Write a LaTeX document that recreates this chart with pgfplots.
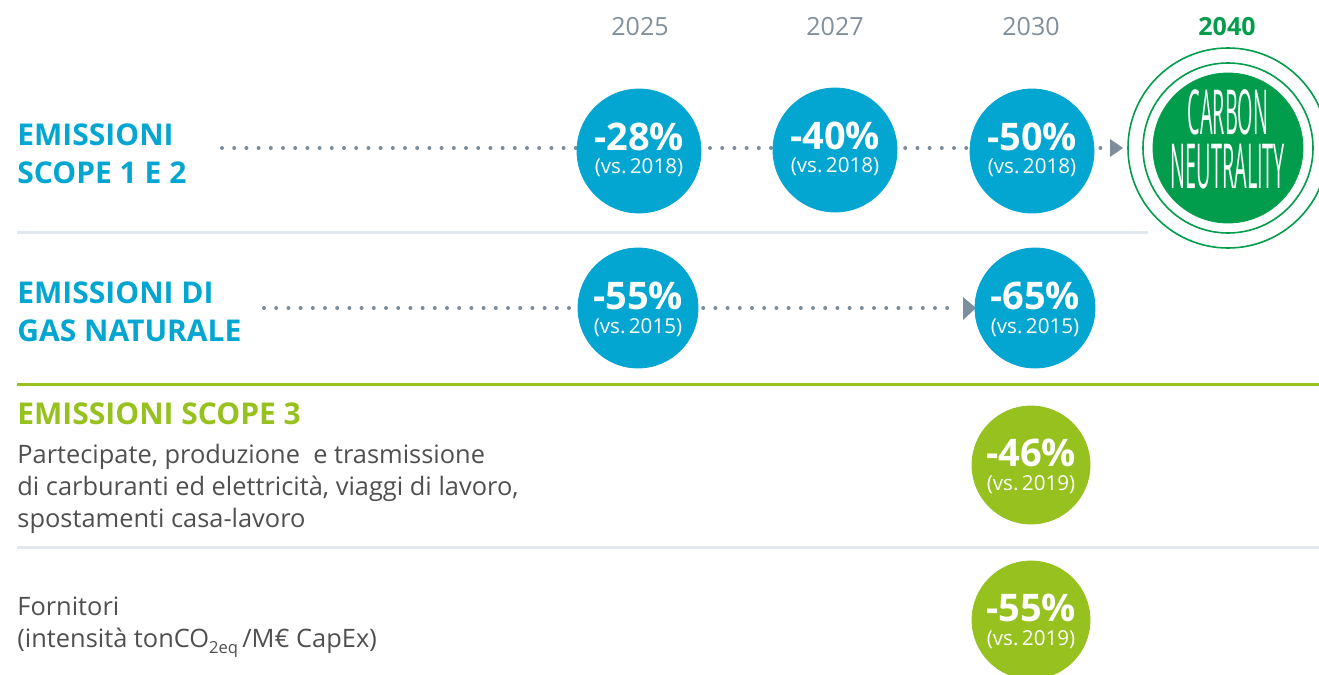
\documentclass[border=0pt]{standalone}
\usepackage{fontspec}
\setmainfont{Open Sans}
\usepackage{pgfplots}
\pgfplotsset{compat=1.18}
\definecolor{cblue}{HTML}{02A6D1}
\definecolor{lgreen}{HTML}{96C11F}
\definecolor{dgreen}{HTML}{029D4C}
\definecolor{dotgray}{HTML}{7D8D9B}
\definecolor{ygray}{HTML}{808F9C}
\definecolor{bodygray}{HTML}{4F4F4F}
\definecolor{sepgray}{HTML}{E1E8EF}
\pgfplotsset{
  canvas/.style={
    width=659.5pt, height=337.5pt, scale only axis,
    xmin=0, xmax=1319, ymin=0, ymax=675, y dir=reverse,
    hide axis, clip=false,
  },
}
\tikzset{
  pct/.style={text=white, font=\bfseries\fontsize{19}{20}\selectfont},
  vs/.style={text=white, font=\fontsize{10.3}{12}\selectfont},
  lbl/.style={anchor=base west, inner sep=0pt, font=\bfseries\fontsize{15}{18}\selectfont},
  body/.style={anchor=base west, inner sep=0pt, text=bodygray, font=\fontsize{12.7}{14}\selectfont},
}

\begin{document}
\begin{tikzpicture}
\begin{axis}[canvas]
% separators
\addplot[sepgray, line width=1.5pt] coordinates {(17,232)(1148,232)};
\addplot[lgreen, line width=1.5pt] coordinates {(17,384)(1319,384)};
\addplot[sepgray, line width=1.5pt] coordinates {(17,547)(1319,547)};

% dotted timelines and arrow heads
\addplot[dotgray, line width=2pt, line cap=round, dash pattern=on 0pt off 6.1pt]
  coordinates {(222,148)(1104,148)};
\addplot[dotgray, line width=2pt, line cap=round, dash pattern=on 0pt off 6.1pt]
  coordinates {(264,308)(958,308)};
\addplot[fill=dotgray, draw=none] coordinates {(1110,139)(1123,148)(1110,157)} -- cycle;
\addplot[fill=dotgray, draw=none] coordinates {(963,297)(976,308)(963,320)} -- cycle;

% target circles
\addplot[cblue, only marks, mark=*, mark size=31pt]
  coordinates {(639,151)(835,150)(1032,151)};
\addplot[cblue, only marks, mark=*, mark size=30pt]
  coordinates {(638,308)(1035,308)};
\addplot[lgreen, only marks, mark=*, mark size=29.5pt]
  coordinates {(1031,465)(1031,620)};

% carbon neutrality badge
\addplot[dgreen, only marks, mark=o, mark size=50pt, mark options={line width=0.8pt}]
  coordinates {(1228,148)};
\addplot[dgreen, only marks, mark=o, mark size=42.5pt, mark options={line width=0.8pt}]
  coordinates {(1228,148)};
\addplot[dgreen, only marks, mark=*, mark size=37.5pt]
  coordinates {(1228,148)};
\end{axis}

% second layer: all texts, on top of the marks
\begin{axis}[canvas]
\node[text=ygray, font=\fontsize{12.5}{15}\selectfont] at (axis cs:640,27) {2025};
\node[text=ygray, font=\fontsize{12.5}{15}\selectfont] at (axis cs:835,27) {2027};
\node[text=ygray, font=\fontsize{12.5}{15}\selectfont] at (axis cs:1031,27) {2030};
\node[text=dgreen, font=\bfseries\fontsize{12.5}{15}\selectfont] at (axis cs:1227,27) {2040};

\node[pct] at (axis cs:639,137) {-28\%};
\node[vs]  at (axis cs:639,168) {(vs.\,2018)};
\node[pct] at (axis cs:835,136) {-40\%};
\node[vs]  at (axis cs:835,167) {(vs.\,2018)};
\node[pct] at (axis cs:1032,137) {-50\%};
\node[vs]  at (axis cs:1032,168) {(vs.\,2018)};
\node[pct] at (axis cs:638,296) {-55\%};
\node[vs]  at (axis cs:638,328) {(vs.\,2015)};
\node[pct] at (axis cs:1035,296) {-65\%};
\node[vs]  at (axis cs:1035,328) {(vs.\,2015)};
\node[pct] at (axis cs:1031,453) {-46\%};
\node[vs]  at (axis cs:1031,485) {(vs.\,2019)};
\node[pct] at (axis cs:1031,608) {-55\%};
\node[vs]  at (axis cs:1031,640) {(vs.\,2019)};

\node[text=white, inner sep=0pt, align=center, font=\fontsize{31}{27}\selectfont]
  at (axis cs:1228,139)
  {\scalebox{0.32}[1]{CARBON}\\ \scalebox{0.32}[1]{NEUTRALITY}};

\node[lbl, text=cblue] at (axis cs:17,145) {EMISSIONI};
\node[lbl, text=cblue] at (axis cs:17,183) {SCOPE 1 E 2};
\node[lbl, text=cblue] at (axis cs:17,303) {EMISSIONI DI};
\node[lbl, text=cblue] at (axis cs:17,341) {GAS NATURALE};
\node[lbl, text=lgreen] at (axis cs:17,424) {EMISSIONI SCOPE 3};
\node[body] at (axis cs:17,463) {Partecipate, produzione\ \ e trasmissione};
\node[body] at (axis cs:17,495) {di carburanti ed elettricità, viaggi di lavoro,};
\node[body] at (axis cs:17,527) {spostamenti casa-lavoro};
\node[body] at (axis cs:17,615) {Fornitori};
\node[body] at (axis cs:17,647)
  {(intensità tonCO\raisebox{-0.5ex}{\fontsize{8.3}{9}\selectfont 2eq}\,/M€ CapEx)};
\end{axis}
\pgfresetboundingbox
\useasboundingbox (current axis.south west) rectangle (current axis.north east);
\end{tikzpicture}
\end{document}
